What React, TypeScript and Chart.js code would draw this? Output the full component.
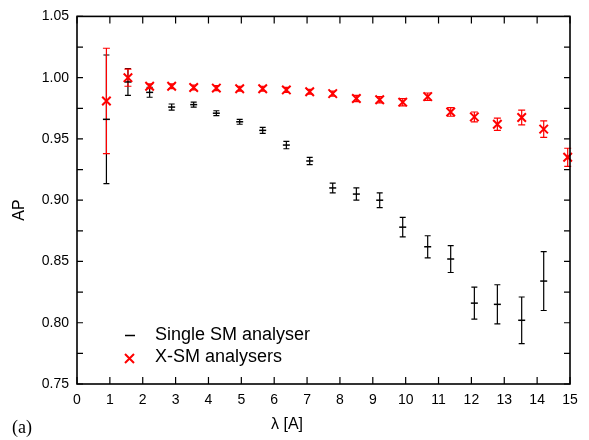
import React, { useEffect, useRef } from "react";
import { Chart, registerables } from "chart.js";

Chart.register(...registerables);

// Single SM analyser
const lambdaSingle = [0.895, 1.55, 2.21, 2.88, 3.55, 4.24, 4.95, 5.65, 6.37, 7.08, 7.78, 8.5, 9.21, 9.91, 10.67, 11.37, 12.09, 12.79, 13.53, 14.2];
const apSingle = [0.966, 0.9965, 0.988, 0.976, 0.978, 0.971, 0.964, 0.957, 0.945, 0.932, 0.91, 0.905, 0.9, 0.878, 0.862, 0.852, 0.816, 0.815, 0.802, 0.834];
const errSingle = [0.0525, 0.011, 0.004, 0.0025, 0.002, 0.002, 0.002, 0.0025, 0.003, 0.003, 0.004, 0.005, 0.006, 0.008, 0.009, 0.011, 0.013, 0.016, 0.019, 0.024];

// X-SM analysers
const lambdaX = [0.895, 1.55, 2.21, 2.88, 3.55, 4.24, 4.95, 5.65, 6.37, 7.08, 7.78, 8.5, 9.21, 9.91, 10.67, 11.37, 12.09, 12.79, 13.53, 14.2, 14.93];
const apX = [0.981, 1.0, 0.993, 0.993, 0.992, 0.9915, 0.991, 0.991, 0.99, 0.9885, 0.987, 0.983, 0.982, 0.98, 0.9845, 0.972, 0.968, 0.962, 0.9675, 0.958, 0.935];
const errX = [0.043, 0.007, 0.002, 0.002, 0.002, 0.002, 0.002, 0.002, 0.002, 0.002, 0.002, 0.0025, 0.0025, 0.003, 0.003, 0.0035, 0.004, 0.005, 0.006, 0.0067, 0.0074];

const seriesLabels = ["Single SM analyser", "X-SM analysers"];
const xTickValues = [0, 1, 2, 3, 4, 5, 6, 7, 8, 9, 10, 11, 12, 13, 14, 15];
const yMinorTicks = [0.75, 0.775, 0.8, 0.825, 0.85, 0.875, 0.9, 0.925, 0.95, 0.975, 1.0, 1.025, 1.05];
const xTitle = "λ [A]";
const yTitle = "AP";
const panelLabel = "(a)";

const FONT = "'Liberation Sans', Arial, Helvetica, sans-serif";
const RED = "#ff0000";

const errorBars: { xs: number[]; ys: number[]; es: number[]; color: string; cap: number }[] = [
  { xs: lambdaSingle, ys: apSingle, es: errSingle, color: "#000000", cap: 3 },
  { xs: lambdaX, ys: apX, es: errX, color: RED, cap: 3.5 },
];

const errorBarPlugin = {
  id: "errorBars",
  beforeDatasetsDraw(chart: any) {
    const { ctx, scales } = chart;
    const x = scales.x;
    const y = scales.y;
    ctx.save();
    errorBars.forEach((s) => {
      ctx.strokeStyle = s.color;
      ctx.lineWidth = 1.2;
      s.xs.forEach((xv, i) => {
        const px = x.getPixelForValue(xv);
        const top = y.getPixelForValue(s.ys[i] + s.es[i]);
        const bot = y.getPixelForValue(s.ys[i] - s.es[i]);
        ctx.beginPath();
        ctx.moveTo(px, top);
        ctx.lineTo(px, bot);
        ctx.moveTo(px - s.cap, top);
        ctx.lineTo(px + s.cap, top);
        ctx.moveTo(px - s.cap, bot);
        ctx.lineTo(px + s.cap, bot);
        ctx.stroke();
      });
    });
    ctx.restore();
  },
};

const framePlugin = {
  id: "frame",
  afterDraw(chart: any) {
    const { ctx, chartArea, scales } = chart;
    const { left, right, top, bottom } = chartArea;
    const x = scales.x;
    const y = scales.y;
    ctx.save();
    ctx.strokeStyle = "#000";
    ctx.lineWidth = 1.6;
    ctx.strokeRect(left, top, right - left, bottom - top);
    ctx.lineWidth = 1.2;
    ctx.beginPath();
    yMinorTicks.forEach((v) => {
      const py = y.getPixelForValue(v);
      ctx.moveTo(left, py);
      ctx.lineTo(left + 6, py);
      ctx.moveTo(right, py);
      ctx.lineTo(right - 6, py);
    });
    xTickValues.forEach((v) => {
      const px = x.getPixelForValue(v);
      ctx.moveTo(px, bottom);
      ctx.lineTo(px, bottom - 7);
      ctx.moveTo(px, top);
      ctx.lineTo(px, top + 7);
    });
    ctx.stroke();

    // Legend
    ctx.lineWidth = 1.5;
    ctx.strokeStyle = "#000";
    ctx.beginPath();
    ctx.moveTo(125, 335.5);
    ctx.lineTo(135, 335.5);
    ctx.stroke();
    ctx.strokeStyle = RED;
    ctx.lineWidth = 2;
    ctx.beginPath();
    ctx.moveTo(125, 354);
    ctx.lineTo(134, 363);
    ctx.moveTo(134, 354);
    ctx.lineTo(125, 363);
    ctx.stroke();

    ctx.fillStyle = "#000";
    ctx.font = `18px ${FONT}`;
    ctx.textAlign = "left";
    ctx.textBaseline = "middle";
    ctx.fillText(seriesLabels[0], 155, 335);
    ctx.fillText(seriesLabels[1], 155, 357);

    // Axis titles
    ctx.font = `16px ${FONT}`;
    ctx.textAlign = "center";
    ctx.fillText(xTitle, 287, 425);
    ctx.save();
    ctx.translate(20, 210);
    ctx.rotate(-Math.PI / 2);
    ctx.fillText(yTitle, 0, 0);
    ctx.restore();

    ctx.font = `18px 'Liberation Serif', 'Times New Roman', serif`;
    ctx.textAlign = "left";
    ctx.fillText(panelLabel, 12, 428);
    ctx.restore();
  },
};

export default function App() {
  const canvasRef = useRef<HTMLCanvasElement | null>(null);

  useEffect(() => {
    if (!canvasRef.current) return;
    const chart = new Chart(canvasRef.current, {
      type: "scatter",
      data: {
        datasets: [
          {
            label: seriesLabels[0],
            data: lambdaSingle.map((xv, i) => ({ x: xv, y: apSingle[i] })),
            pointStyle: "line",
            pointRadius: 3.5,
            pointHoverRadius: 3.5,
            borderColor: "#000",
            backgroundColor: "#000",
            borderWidth: 1.5,
            showLine: false,
            clip: false as any,
            order: 1,
          },
          {
            label: seriesLabels[1],
            data: lambdaX.map((xv, i) => ({ x: xv, y: apX[i] })),
            pointStyle: "crossRot",
            pointRadius: 6,
            pointHoverRadius: 6,
            borderColor: RED,
            backgroundColor: RED,
            borderWidth: 2,
            showLine: false,
            clip: false as any,
            order: 0,
          },
        ],
      },
      options: {
        animation: false,
        responsive: true,
        maintainAspectRatio: false,
        layout: { padding: { left: 0, right: 19, top: 12, bottom: 0 } },
        plugins: {
          legend: { display: false },
          tooltip: { enabled: false },
          title: { display: false },
        },
        scales: {
          x: {
            type: "linear",
            min: 0,
            max: 15,
            grid: { display: false, drawTicks: false },
            border: { display: false },
            ticks: {
              stepSize: 1,
              color: "#000",
              padding: 8,
              maxRotation: 0,
              font: { family: FONT, size: 14 },
            },
            afterFit: (s: any) => {
              s.height = 56;
            },
          },
          y: {
            type: "linear",
            min: 0.75,
            max: 1.05,
            grid: { display: false, drawTicks: false },
            border: { display: false },
            ticks: {
              stepSize: 0.05,
              color: "#000",
              padding: 8,
              font: { family: FONT, size: 14 },
              callback: (v: any) => Number(v).toFixed(2),
            },
            afterFit: (s: any) => {
              s.width = 77;
            },
          },
        },
      },
      plugins: [errorBarPlugin, framePlugin],
    });
    return () => chart.destroy();
  }, []);

  return (
    <div style={{ position: "absolute", left: 0, top: 0, width: 589, height: 440, background: "#fff" }}>
      <canvas ref={canvasRef} />
    </div>
  );
}
